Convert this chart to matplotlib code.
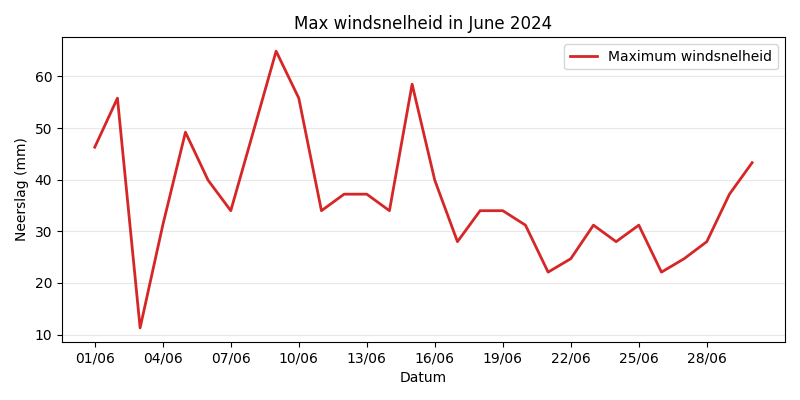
import matplotlib
matplotlib.use("Agg")
import matplotlib.pyplot as plt
import matplotlib.dates as mdates
import pandas as pd

dates = pd.date_range("2024-06-01", "2024-06-30", freq="D")
max_wind = [46.3, 55.8, 11.3, 31.2, 49.2, 39.9, 34.0, 49.4, 64.9, 55.8,
            34.0, 37.2, 37.2, 34.0, 58.5, 39.9, 28.0, 34.0, 34.0, 31.2,
            22.1, 24.7, 31.2, 28.0, 31.2, 22.1, 24.7, 28.0, 37.2, 43.3]

fig, ax = plt.subplots(figsize=(8, 4), dpi=100)
ax.plot(dates, max_wind, color="#d62728", linewidth=2, label="Maximum windsnelheid")
ax.set_title("Max windsnelheid in June 2024")
ax.set_xlabel("Datum")
ax.set_ylabel("Neerslag (mm)")
ax.set_xticks(dates[::3])
ax.xaxis.set_major_formatter(mdates.DateFormatter("%d/%m"))
ax.grid(axis="y", alpha=0.3)
ax.legend(loc="upper right")
fig.tight_layout()
fig.savefig("out.png")
